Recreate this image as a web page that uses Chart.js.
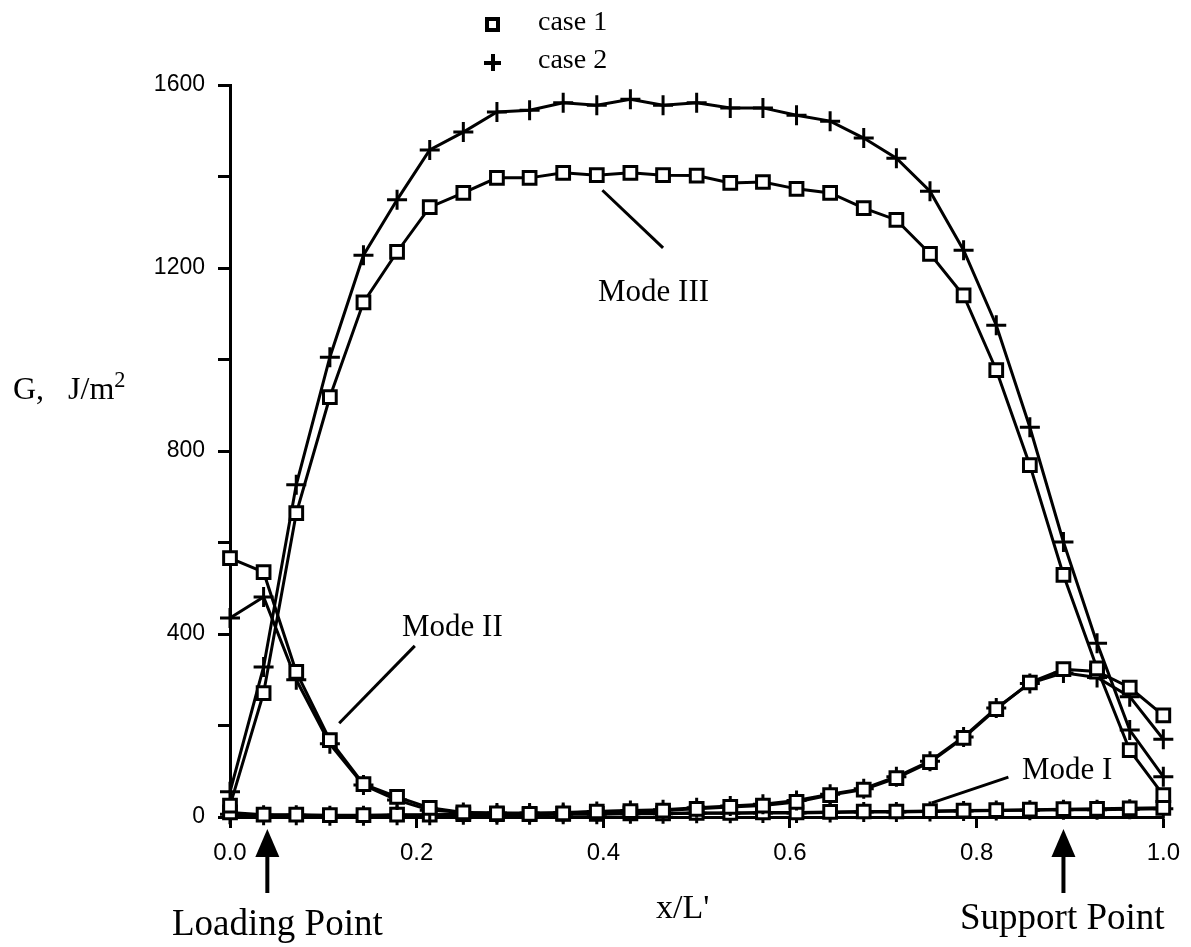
<!DOCTYPE html>
<html lang="en">
<head>
    <meta charset="UTF-8"/>
    <title>G along x/L' - Modes I, II, III</title>
    <script src="https://cdn.jsdelivr.net/npm/chart.js"></script>
    <style>
        html, body {
            margin: 0;
            padding: 0;
            background-color: #fff;
        }

        .wrap {
            position: relative;
            width: 1191px;
            height: 947px;
            overflow: hidden;
        }

        canvas {
            position: absolute;
            left: 0;
            top: 0;
        }

        .txt {
            position: absolute;
            font-family: 'Liberation Serif', 'Times New Roman', serif;
            color: #000;
            line-height: normal;
            white-space: nowrap;
        }

        .txt sup {
            font-size: 0.7em;
            vertical-align: 0.55em;
            line-height: 0;
        }

        .mark-square {
            position: absolute;
            left: 485px;
            top: 17px;
            width: 15px;
            height: 15px;
            box-sizing: border-box;
            border: 4px solid #000;
            background: #fff;
        }

        .mark-plus {
            position: absolute;
            left: 484px;
            top: 54px;
            width: 17px;
            height: 17px;
        }

        .mark-plus::before, .mark-plus::after {
            content: '';
            position: absolute;
            background: #000;
        }

        .mark-plus::before { left: 0; top: 7px; width: 17px; height: 4px; }
        .mark-plus::after { left: 7px; top: 0; width: 4px; height: 17px; }
    </style>
</head>
<body>
<div class="wrap">
    <canvas id="gChart" width="1191" height="947"></canvas>

    <div class="mark-square"></div>
    <div class="txt" style="left:538px; top:5px; font-size:28px;">case 1</div>
    <div class="mark-plus"></div>
    <div class="txt" style="left:538px; top:43px; font-size:28px;">case 2</div>

    <div class="txt" style="left:13px; top:370px; font-size:32px;">G,&nbsp;&nbsp;&nbsp;J/m<sup>2</sup></div>

    <div class="txt" style="left:598px; top:273px; font-size:31px;">Mode III</div>
    <div class="txt" style="left:402px; top:608px; font-size:31px;">Mode II</div>
    <div class="txt" style="left:1022px; top:751px; font-size:31px;">Mode I</div>

    <div class="txt" style="left:656px; top:888px; font-size:34px;">x/L'</div>
    <div class="txt" style="left:172px; top:901px; font-size:37px;">Loading Point</div>
    <div class="txt" style="left:960px; top:895px; font-size:37px;">Support Point</div>
</div>

<script>
    // x/L' positions of the computed points
    const xPos = [0, 0.036, 0.071, 0.107, 0.143, 0.179, 0.214, 0.25, 0.286, 0.321,
        0.357, 0.393, 0.429, 0.464, 0.5, 0.536, 0.571, 0.607, 0.643, 0.679,
        0.714, 0.75, 0.786, 0.821, 0.857, 0.893, 0.929, 0.964, 1.0];

    // G values, J/m^2
    const case1ModeIII = [25, 271, 664, 918, 1125, 1235, 1333, 1364, 1397, 1397,
        1408, 1403, 1408, 1403, 1402, 1386, 1388, 1373, 1364, 1331,
        1305, 1231, 1140, 977, 769, 529, 325, 146, 48];
    const case2ModeIII = [55, 328, 726, 1005, 1228, 1349, 1458, 1497, 1541, 1545,
        1561, 1556, 1569, 1556, 1561, 1550, 1550, 1534, 1521, 1484,
        1440, 1368, 1239, 1075, 852, 601, 380, 190, 88];
    const case1ModeII = [566, 535, 317, 168, 72, 44, 20, 10, 8, 7,
        8, 12, 13, 14, 18, 22, 25, 33, 48, 60,
        85, 120, 173, 236, 294, 323, 318, 283, 222];
    const case2ModeII = [435, 481, 300, 160, 70, 37, 15, 10, 9, 9,
        10, 12, 14, 16, 20, 24, 28, 36, 50, 62,
        88, 122, 175, 238, 292, 315, 305, 263, 170];
    const case1ModeI = [10, 5, 5, 4, 4, 5, 5, 6, 6, 6,
        7, 7, 8, 8, 9, 9, 10, 10, 11, 12,
        12, 13, 14, 15, 16, 17, 18, 19, 20];
    const case2ModeI = [6, 4, 4, 3, 3, 4, 4, 5, 5, 5,
        6, 6, 7, 7, 8, 8, 9, 9, 10, 11,
        11, 12, 13, 14, 15, 16, 16, 17, 18];

    const xTicks = [0, 0.2, 0.4, 0.6, 0.8, 1.0];
    const yLabelStep = 400;

    // leader lines from the labels to the curves, in data units
    const leaders = [
        [[0.399, 1370], [0.464, 1244]],
        [[0.198, 374], [0.117, 205]],
        [[0.834, 87], [0.752, 31]]
    ];
    const arrowsAt = [0.04, 0.893];

    const toPoints = vals => vals.map((v, i) => ({x: xPos[i], y: v}));

    const squareStyle = {
        pointStyle: 'rect',
        pointRadius: 9,
        pointBackgroundColor: '#fff'
    };
    const plusStyle = {
        pointStyle: 'cross',
        pointRadius: 10,
        pointBackgroundColor: '#000'
    };

    function series(label, vals, marker) {
        return Object.assign({
            label: label,
            data: toPoints(vals),
            borderColor: '#000',
            borderWidth: 3,
            pointBorderColor: '#000',
            pointBorderWidth: 3,
            tension: 0,
            clip: false
        }, marker);
    }

    const extras = {
        id: 'extras',
        afterDraw(chart) {
            const {ctx, scales: {x, y}} = chart;
            ctx.save();
            ctx.strokeStyle = '#000';
            ctx.fillStyle = '#000';
            ctx.lineWidth = 3;
            leaders.forEach(([a, b]) => {
                ctx.beginPath();
                ctx.moveTo(x.getPixelForValue(a[0]), y.getPixelForValue(a[1]));
                ctx.lineTo(x.getPixelForValue(b[0]), y.getPixelForValue(b[1]));
                ctx.stroke();
            });
            const tip = y.getPixelForValue(0) + 12;
            arrowsAt.forEach(ax => {
                const px = x.getPixelForValue(ax);
                ctx.lineWidth = 4;
                ctx.beginPath();
                ctx.moveTo(px, tip + 20);
                ctx.lineTo(px, tip + 64);
                ctx.stroke();
                ctx.beginPath();
                ctx.moveTo(px, tip);
                ctx.lineTo(px - 12, tip + 28);
                ctx.lineTo(px + 12, tip + 28);
                ctx.closePath();
                ctx.fill();
            });
            ctx.restore();
        }
    };

    const ctx = document.getElementById('gChart').getContext('2d');

    new Chart(ctx, {
        type: 'line',
        data: {
            datasets: [
                series('case 1 Mode III', case1ModeIII, squareStyle),
                series('case 2 Mode III', case2ModeIII, plusStyle),
                series('case 1 Mode II', case1ModeII, squareStyle),
                series('case 2 Mode II', case2ModeII, plusStyle),
                series('case 1 Mode I', case1ModeI, squareStyle),
                series('case 2 Mode I', case2ModeI, plusStyle)
            ]
        },
        options: {
            responsive: false,
            animation: false,
            events: [],
            layout: {
                padding: {left: 0, right: 27, top: 85, bottom: 0}
            },
            scales: {
                x: {
                    type: 'linear',
                    min: 0,
                    max: 1,
                    afterBuildTicks: scale => {
                        scale.ticks = xTicks.map(v => ({value: v}));
                    },
                    afterFit: scale => { scale.height = 130; },
                    border: {display: true, color: '#000', width: 3},
                    grid: {
                        drawOnChartArea: false,
                        drawTicks: true,
                        tickLength: 11,
                        tickWidth: 3,
                        tickColor: '#000'
                    },
                    ticks: {
                        color: '#000',
                        padding: 11,
                        maxRotation: 0,
                        autoSkip: false,
                        font: {family: 'Liberation Sans', size: 24},
                        callback: v => Number(v).toFixed(1)
                    }
                },
                y: {
                    min: 0,
                    max: 1600,
                    afterFit: scale => { scale.width = 230; },
                    border: {display: true, color: '#000', width: 3},
                    grid: {
                        drawOnChartArea: false,
                        drawTicks: true,
                        tickLength: 12,
                        tickWidth: 3,
                        tickColor: '#000'
                    },
                    ticks: {
                        stepSize: 200,
                        color: '#000',
                        padding: 13,
                        autoSkip: false,
                        font: {family: 'Liberation Sans', size: 23},
                        callback: v => (v % yLabelStep === 0 ? v : '')
                    }
                }
            },
            plugins: {
                legend: {display: false},
                tooltip: {enabled: false}
            }
        },
        plugins: [extras]
    });
</script>
</body>
</html>
